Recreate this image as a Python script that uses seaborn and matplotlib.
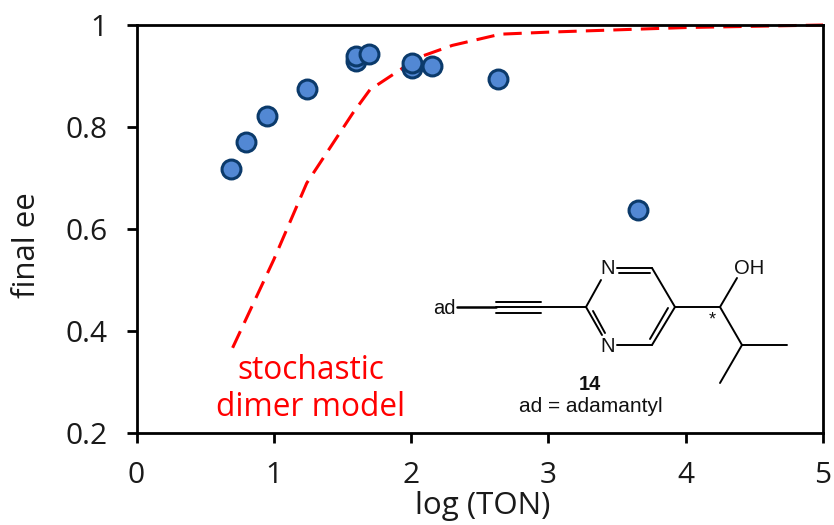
import matplotlib
matplotlib.use("Agg")
import matplotlib.pyplot as plt
import seaborn as sns
import pandas as pd

log_ton = [0.69, 0.80, 0.95, 1.245, 1.596, 1.596, 1.69, 2.004, 2.004, 2.152, 2.636, 3.65]
final_ee = [0.717, 0.771, 0.821, 0.875, 0.930, 0.939, 0.944, 0.915, 0.925, 0.919, 0.894, 0.638]
model_x = [0.70, 1.00, 1.24, 1.575, 1.70, 2.06, 2.30, 2.65, 3.00, 4.00, 5.00]
model_y = [0.367, 0.54, 0.69, 0.827, 0.873, 0.937, 0.96, 0.982, 0.986, 0.995, 1.00]
x_ticks = [0, 1, 2, 3, 4, 5]
y_ticks = [0.2, 0.4, 0.6, 0.8, 1.0]
y_labels = ["0.2", "0.4", "0.6", "0.8", "1"]

sns.set_style("white")
plt.rcParams['font.family'] = ['Open Sans', 'DejaVu Sans']
fig = plt.figure(figsize=(8.34, 5.25), dpi=100)
ax = fig.add_axes([136.5/834, 1-433/525, (823-136.5)/834, (433-25)/525])
sns.lineplot(x=model_x, y=model_y, ax=ax, color="#ff0000", lw=2.2, dashes=(6, 3), zorder=2, clip_on=False)
sns.scatterplot(data=pd.DataFrame({"x": log_ton, "y": final_ee}), x="x", y="y", ax=ax, s=185,
                color="#5288d4", edgecolor="#0b3a6b", linewidth=2.2, zorder=3, clip_on=False)
ax.set_xlim(0, 5); ax.set_ylim(0.2, 1)
ax.set_xticks(x_ticks); ax.set_yticks(y_ticks); ax.set_yticklabels(y_labels)
ax.tick_params(direction="out", length=7, width=2, color="black", labelsize=21.5, labelcolor="#1a1a1a", bottom=True, left=True)
ax.tick_params(axis="x", pad=13)
ax.tick_params(axis="y", pad=14)
for s in ax.spines.values():
    s.set_linewidth(2); s.set_color("black"); s.set_visible(True)
ax.set_xlabel("log (TON)", fontsize=22.5, color="#1a1a1a")
ax.set_ylabel("final ee", fontsize=22.5, color="#1a1a1a")
ax.xaxis.set_label_coords(0.505, -0.142)
ax.yaxis.set_label_coords(-0.138, 0.461)
ax.text(1.27, 0.3235, "stochastic", color="#ff0000", fontsize=22.8, ha="center", va="center")
ax.text(1.27, 0.25, "dimer model", color="#ff0000", fontsize=22.8, ha="center", va="center")

# structure drawn in pixel coordinates
def P(x, y):
    return ax.transAxes.inverted().transform(fig.transFigure.transform((x/834, 1-y/525)))
def bond(a, b, lw=1.4):
    p, q = P(*a), P(*b)
    ax.plot([p[0], q[0]], [p[1], q[1]], transform=ax.transAxes, color="black", lw=lw, zorder=4, solid_capstyle="round")
def label(x, y, s, size=14.5, **k):
    p = P(x, y)
    ax.text(p[0], p[1], s, transform=ax.transAxes, fontsize=size, ha="center", va="center",
            family=["Liberation Sans"], color="#111111", zorder=5, **k)
bond((457, 307), (496, 307), lw=1.8)
for y in (302, 307, 313):
    bond((496, y), (541, y))
bond((541, 307), (586, 307))
bond((586, 307), (601, 280))
bond((586, 307), (602, 335)); bond((593, 311), (605, 333))
bond((617, 268), (652, 268)); bond((619, 273), (650, 273))
bond((617, 345), (652, 345))
bond((652, 268), (675, 307)); bond((675, 307), (652, 345)); bond((668, 308), (650, 339))
bond((675, 307), (720, 307)); bond((720, 307), (737, 278))
bond((720, 307), (742, 345)); bond((742, 345), (787, 345)); bond((742, 345), (720, 383))
label(444, 308, "ad"); label(608, 269, "N"); label(608, 346, "N"); label(749, 269, "OH")
label(712, 320, "*", size=13)
label(590, 385, "14", weight="bold"); label(591, 407, "ad = adamantyl", size=15)
fig.savefig("out.png", dpi=100)
